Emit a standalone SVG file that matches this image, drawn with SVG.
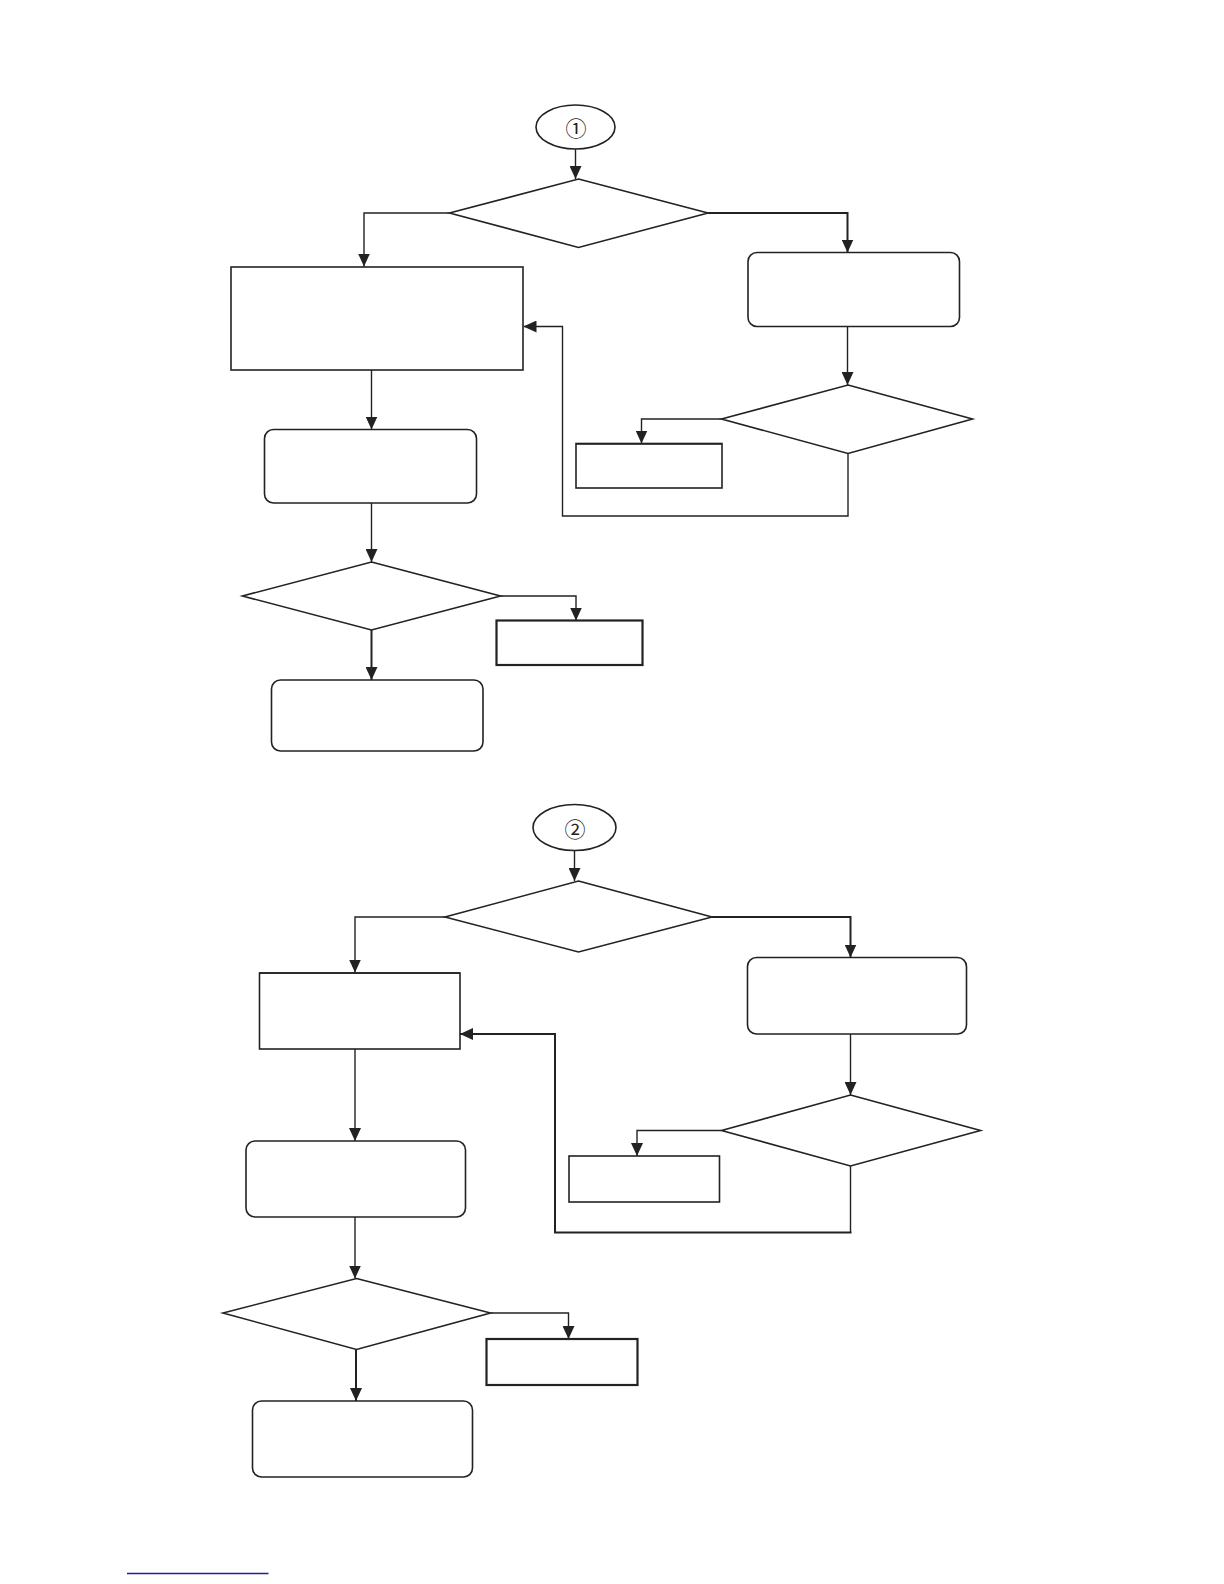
<svg xmlns="http://www.w3.org/2000/svg" width="1224" height="1584" viewBox="0 0 1224 1584">
<style>
.shape{fill:#fff;stroke:#222;stroke-width:1.6}
.thick{stroke-width:2.2}
.conn{fill:none;stroke:#222;stroke-width:1.4}
.connb{fill:none;stroke:#222;stroke-width:2}
.lbl{font-family:"Noto Sans CJK SC","Noto Sans CJK JP",sans-serif;font-size:21px;fill:#222;text-anchor:middle;dominant-baseline:central}
</style>
<defs>
<marker id="ah" viewBox="0 0 13 12" refX="13" refY="6" markerWidth="13" markerHeight="12" markerUnits="userSpaceOnUse" orient="auto">
<path d="M0,0 L13,6 L0,12 Z" fill="#222"/>
</marker>
</defs>
<rect width="1224" height="1584" fill="#fff"/>

<g id="connectors">
<!-- section 1 -->
<path class="conn" d="M575.5,149 V179" marker-end="url(#ah)"/>
<path class="conn" d="M449.5,213 H364 V266.5" marker-end="url(#ah)"/>
<path class="connb" d="M708,213 H847.5 V252.5" marker-end="url(#ah)"/>
<path class="conn" d="M847.5,326.5 V385" marker-end="url(#ah)"/>
<path class="conn" d="M721.5,419 H641.5 V443.5" marker-end="url(#ah)"/>
<path class="conn" d="M848,453.5 V516 H562.5 V326.5 H523.5" marker-end="url(#ah)"/>
<path class="conn" d="M371.5,370 V429.5" marker-end="url(#ah)"/>
<path class="conn" d="M371.5,503 V562" marker-end="url(#ah)"/>
<path class="conn" d="M500.5,596 H576 V620.5" marker-end="url(#ah)"/>
<path class="connb" d="M371.5,630 V680" marker-end="url(#ah)"/>
<!-- section 2 -->
<path class="conn" d="M574.5,850.5 V881" marker-end="url(#ah)"/>
<path class="conn" d="M445,917 H355 V972.5" marker-end="url(#ah)"/>
<path class="connb" d="M712,917 H850.5 V957.5" marker-end="url(#ah)"/>
<path class="conn" d="M850.5,1034 V1095" marker-end="url(#ah)"/>
<path class="conn" d="M721.5,1130.5 H637 V1156" marker-end="url(#ah)"/>
<path class="conn" d="M850.5,1166 V1232.5"/>
<path class="connb" d="M851.5,1232.5 H555 V1034 H460" marker-end="url(#ah)"/>
<path class="conn" d="M355,1049 V1141" marker-end="url(#ah)"/>
<path class="conn" d="M355,1217 V1278.5" marker-end="url(#ah)"/>
<path class="conn" d="M490.5,1313 H568.5 V1339" marker-end="url(#ah)"/>
<path class="connb" d="M356,1349.5 V1401" marker-end="url(#ah)"/>
</g>

<!-- section 1 nodes -->
<g id="start1">
<ellipse class="shape" cx="575.5" cy="127" rx="39.5" ry="22"/>
<text class="lbl" x="576" y="127">①</text>
</g>
<g id="dec1"><polygon class="shape" points="578.5,179 708,213 578.5,247.5 449.5,213"/></g>
<g id="boxA"><rect class="shape" x="231" y="267" width="292" height="103"/></g>
<g id="boxB"><rect class="shape" x="748" y="252.5" width="211.5" height="74" rx="9"/></g>
<g id="dec2"><polygon class="shape" points="848,385 972.5,419 848,453.5 721.5,419"/></g>
<g id="boxC"><rect class="shape" x="576" y="443.5" width="146" height="44.5"/><line class="conn" x1="576" y1="444" x2="722" y2="444" stroke-width="2.4"/></g>
<g id="boxD"><rect class="shape" x="264.5" y="429.5" width="212" height="73.5" rx="9"/></g>
<g id="dec3"><polygon class="shape" points="371.5,562 500.5,596 371.5,630 242.5,596"/></g>
<g id="boxE"><rect class="shape thick" x="496.5" y="620.5" width="146" height="44.5"/></g>
<g id="boxF"><rect class="shape" x="271.5" y="680" width="211.5" height="71" rx="9"/></g>

<!-- section 2 nodes -->
<g id="start2">
<ellipse class="shape" cx="574.5" cy="827.5" rx="41.5" ry="23"/>
<text class="lbl" x="575" y="827.5">②</text>
</g>
<g id="dec4"><polygon class="shape" points="578.5,881 712,917 578.5,952 445,917"/></g>
<g id="boxG"><rect class="shape" x="259.5" y="973" width="200.5" height="76"/><line class="conn" x1="259.5" y1="973" x2="460" y2="973" stroke-width="2.6"/></g>
<g id="boxH"><rect class="shape" x="747.5" y="957.5" width="219" height="76.5" rx="9"/></g>
<g id="dec5"><polygon class="shape" points="850.5,1095 980.5,1130.5 850.5,1166 721.5,1130.5"/></g>
<g id="boxI"><rect class="shape" x="569" y="1156" width="150.5" height="46"/></g>
<g id="boxJ"><rect class="shape" x="246" y="1141" width="219.5" height="76" rx="9"/></g>
<g id="dec6"><polygon class="shape" points="356.5,1278.5 490.5,1313 356.5,1349.5 223,1313"/></g>
<g id="boxK"><rect class="shape thick" x="486.5" y="1339" width="151" height="46"/></g>
<g id="boxL"><rect class="shape" x="252.5" y="1401" width="220" height="76" rx="9"/></g>

<line x1="127" y1="1573.5" x2="268.5" y2="1573.5" stroke="#1c1ca8" stroke-width="1.5"/>
</svg>
